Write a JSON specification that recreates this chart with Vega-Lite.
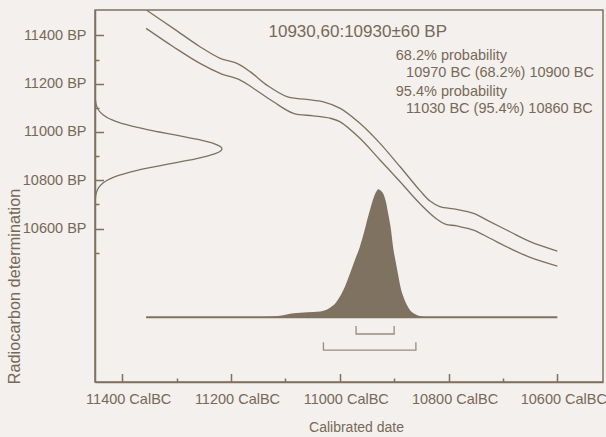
{
  "$schema": "https://vega.github.io/schema/vega-lite/v6.json",
  "width": 508,
  "height": 372,
  "autosize": {"type": "none"},
  "padding": {"left": 95, "top": 10, "right": 3, "bottom": 55},
  "background": "#f3f0ed",
  "config": {"view": {"stroke": "#7f7160", "strokeWidth": 1.5}, "font": "Liberation Sans"},
  "datasets": {
    "calib": [
      {"curve": "upper", "bc": 11355, "bp": 11504},
      {"curve": "upper", "bc": 11306, "bp": 11429},
      {"curve": "upper", "bc": 11257, "bp": 11353},
      {"curve": "upper", "bc": 11220, "bp": 11305},
      {"curve": "upper", "bc": 11189, "bp": 11284},
      {"curve": "upper", "bc": 11165, "bp": 11250},
      {"curve": "upper", "bc": 11134, "bp": 11194},
      {"curve": "upper", "bc": 11097, "bp": 11146},
      {"curve": "upper", "bc": 11061, "bp": 11135},
      {"curve": "upper", "bc": 11030, "bp": 11125},
      {"curve": "upper", "bc": 10999, "bp": 11098},
      {"curve": "upper", "bc": 10963, "bp": 11036},
      {"curve": "upper", "bc": 10926, "bp": 10953},
      {"curve": "upper", "bc": 10889, "bp": 10856},
      {"curve": "upper", "bc": 10852, "bp": 10756},
      {"curve": "upper", "bc": 10834, "bp": 10714},
      {"curve": "upper", "bc": 10816, "bp": 10691},
      {"curve": "upper", "bc": 10785, "bp": 10680},
      {"curve": "upper", "bc": 10754, "bp": 10663},
      {"curve": "upper", "bc": 10724, "bp": 10629},
      {"curve": "upper", "bc": 10687, "bp": 10587},
      {"curve": "upper", "bc": 10650, "bp": 10546},
      {"curve": "upper", "bc": 10600, "bp": 10507},
      {"curve": "lower", "bc": 11356, "bp": 11429},
      {"curve": "lower", "bc": 11306, "bp": 11353},
      {"curve": "lower", "bc": 11257, "bp": 11284},
      {"curve": "lower", "bc": 11220, "bp": 11243},
      {"curve": "lower", "bc": 11183, "bp": 11215},
      {"curve": "lower", "bc": 11159, "bp": 11181},
      {"curve": "lower", "bc": 11122, "bp": 11125},
      {"curve": "lower", "bc": 11085, "bp": 11077},
      {"curve": "lower", "bc": 11049, "bp": 11067},
      {"curve": "lower", "bc": 11018, "bp": 11057},
      {"curve": "lower", "bc": 11000, "bp": 11043},
      {"curve": "lower", "bc": 10963, "bp": 10974},
      {"curve": "lower", "bc": 10926, "bp": 10884},
      {"curve": "lower", "bc": 10889, "bp": 10794},
      {"curve": "lower", "bc": 10852, "bp": 10702},
      {"curve": "lower", "bc": 10822, "bp": 10640},
      {"curve": "lower", "bc": 10806, "bp": 10619},
      {"curve": "lower", "bc": 10785, "bp": 10611},
      {"curve": "lower", "bc": 10754, "bp": 10594},
      {"curve": "lower", "bc": 10724, "bp": 10560},
      {"curve": "lower", "bc": 10687, "bp": 10518},
      {"curve": "lower", "bc": 10650, "bp": 10481},
      {"curve": "lower", "bc": 10600, "bp": 10445}
    ],
    "meas": [
      {"bp": 10710, "bc": 11449.7},
      {"bp": 10730, "bc": 11449.1},
      {"bp": 10750, "bc": 11447.4},
      {"bp": 10770, "bc": 11443.3},
      {"bp": 10790, "bc": 11434.7},
      {"bp": 10800, "bc": 11427.7},
      {"bp": 10810, "bc": 11418.4},
      {"bp": 10820, "bc": 11406.5},
      {"bp": 10830, "bc": 11391.8},
      {"bp": 10840, "bc": 11374.2},
      {"bp": 10850, "bc": 11354.0},
      {"bp": 10860, "bc": 11331.8},
      {"bp": 10870, "bc": 11308.4},
      {"bp": 10880, "bc": 11285.0},
      {"bp": 10890, "bc": 11263.0},
      {"bp": 10900, "bc": 11243.9},
      {"bp": 10910, "bc": 11229.1},
      {"bp": 10920, "bc": 11219.7},
      {"bp": 10930, "bc": 11216.5},
      {"bp": 10940, "bc": 11219.7},
      {"bp": 10950, "bc": 11229.1},
      {"bp": 10960, "bc": 11243.9},
      {"bp": 10970, "bc": 11263.0},
      {"bp": 10980, "bc": 11285.0},
      {"bp": 10990, "bc": 11308.4},
      {"bp": 11000, "bc": 11331.8},
      {"bp": 11010, "bc": 11354.0},
      {"bp": 11020, "bc": 11374.2},
      {"bp": 11030, "bc": 11391.8},
      {"bp": 11040, "bc": 11406.5},
      {"bp": 11050, "bc": 11418.4},
      {"bp": 11060, "bc": 11427.7},
      {"bp": 11070, "bc": 11434.7},
      {"bp": 11090, "bc": 11443.3},
      {"bp": 11110, "bc": 11447.4},
      {"bp": 11130, "bc": 11449.1},
      {"bp": 11150, "bc": 11449.7}
    ],
    "dist": [
      {"bc": 11356, "p": 0},
      {"bc": 11200, "p": 0},
      {"bc": 11140, "p": 0.002},
      {"bc": 11110, "p": 0.012},
      {"bc": 11085, "p": 0.032},
      {"bc": 11060, "p": 0.04},
      {"bc": 11036, "p": 0.046},
      {"bc": 11018, "p": 0.075},
      {"bc": 11008, "p": 0.11},
      {"bc": 11000, "p": 0.16},
      {"bc": 10990, "p": 0.245},
      {"bc": 10981, "p": 0.344},
      {"bc": 10972, "p": 0.45},
      {"bc": 10963, "p": 0.552},
      {"bc": 10955, "p": 0.67},
      {"bc": 10948, "p": 0.786},
      {"bc": 10943, "p": 0.86},
      {"bc": 10938, "p": 0.93},
      {"bc": 10933, "p": 0.98},
      {"bc": 10929, "p": 1.0},
      {"bc": 10925, "p": 0.99},
      {"bc": 10920, "p": 0.965},
      {"bc": 10915, "p": 0.9},
      {"bc": 10911, "p": 0.81},
      {"bc": 10906, "p": 0.69},
      {"bc": 10902, "p": 0.552},
      {"bc": 10897, "p": 0.43},
      {"bc": 10892, "p": 0.317},
      {"bc": 10888, "p": 0.23},
      {"bc": 10883, "p": 0.161},
      {"bc": 10877, "p": 0.1},
      {"bc": 10871, "p": 0.057},
      {"bc": 10862, "p": 0.025},
      {"bc": 10853, "p": 0.01},
      {"bc": 10843, "p": 0.002},
      {"bc": 10830, "p": 0},
      {"bc": 10600, "p": 0}
    ],
    "base": [{"bc": 11356, "bc2": 10600, "p": 0}],
    "ranges": [
      {"range": "68.2%", "k": 1, "bc": 10970, "p": -0.068},
      {"range": "68.2%", "k": 2, "bc": 10970, "p": -0.1305},
      {"range": "68.2%", "k": 3, "bc": 10900, "p": -0.1305},
      {"range": "68.2%", "k": 4, "bc": 10900, "p": -0.068},
      {"range": "95.4%", "k": 1, "bc": 11030, "p": -0.1945},
      {"range": "95.4%", "k": 2, "bc": 11030, "p": -0.257},
      {"range": "95.4%", "k": 3, "bc": 10860, "p": -0.257},
      {"range": "95.4%", "k": 4, "bc": 10860, "p": -0.1945}
    ],
    "heading": [{"text": "10930,60:10930±60 BP", "bc": 11131, "bp": 11395}],
    "notes": [
      {"text": "68.2% probability", "bc": 10897, "bp": 11298},
      {"text": "10970 BC (68.2%) 10900 BC", "bc": 10878, "bp": 11226},
      {"text": "95.4% probability", "bc": 10897, "bp": 11151},
      {"text": "11030 BC (95.4%) 10860 BC", "bc": 10878, "bp": 11077}
    ]
  },
  "encoding": {
    "x": {
      "field": "bc",
      "type": "quantitative",
      "scale": {"domain": [10516, 11450], "reverse": true, "nice": false, "zero": false},
      "axis": {
        "values": [11400, 11300, 11200, 11100, 11000, 10900, 10800, 10700, 10600],
        "labelExpr": "datum.value % 200 === 0 ? datum.value + ' CalBC' : ''",
        "tickSize": {"condition": {"test": "datum.value % 200 === 0", "value": -8.5}, "value": -4},
        "labelPadding": 18.5,
        "labelOffset": 6,
        "labelFont": "Liberation Sans",
        "labelFontSize": 14.5,
        "labelColor": "#776957",
        "labelBaseline": "top",
        "labelFlush": false,
        "labelOverlap": false,
        "domainColor": "#7f7160",
        "domainWidth": 1.5,
        "tickColor": "#7f7160",
        "tickWidth": 1.5,
        "grid": false,
        "title": "Calibrated date",
        "titleFont": "Liberation Sans",
        "titleFontSize": 14,
        "titleFontWeight": "normal",
        "titleColor": "#776957",
        "titleX": 261,
        "titleY": 49.5,
        "titleBaseline": "alphabetic",
        "titleAlign": "center"
      }
    }
  },
  "layer": [
    {
      "encoding": {
        "y": {
          "field": "bp",
          "type": "quantitative",
          "scale": {"domain": [9965, 11505], "nice": false, "zero": false},
          "axis": {
            "values": [10500, 10600, 10700, 10800, 10900, 11000, 11100, 11200, 11300, 11400],
            "labelExpr": "datum.value % 200 === 0 ? datum.value + ' BP' : ''",
            "tickSize": {"condition": {"test": "datum.value % 200 === 0", "value": -8.5}, "value": -4},
            "labelPadding": 17.5,
            "labelFont": "Liberation Sans",
            "labelFontSize": 14.5,
            "labelColor": "#776957",
            "labelBaseline": "middle",
            "labelAlign": "right",
            "labelFlush": false,
            "labelOverlap": false,
            "domainColor": "#7f7160",
            "domainWidth": 1.5,
            "tickColor": "#7f7160",
            "tickWidth": 1.5,
            "grid": false,
            "title": "Radiocarbon determination",
            "titleFont": "Liberation Sans",
            "titleFontSize": 16.3,
            "titleFontWeight": "normal",
            "titleColor": "#776957",
            "titleAngle": 270,
            "titleX": -76,
            "titleY": 276,
            "titleBaseline": "alphabetic",
            "titleAlign": "center"
          }
        }
      },
      "layer": [
        {
          "data": {"name": "calib"},
          "mark": {"type": "line", "color": "#7f7160", "strokeWidth": 1.3, "interpolate": "catmull-rom", "clip": true},
          "encoding": {"detail": {"field": "curve"}}
        },
        {
          "data": {"name": "meas"},
          "mark": {"type": "line", "color": "#7f7160", "strokeWidth": 1.3, "interpolate": "catmull-rom", "clip": true},
          "encoding": {"order": {"field": "bp", "type": "quantitative"}}
        },
        {
          "data": {"name": "heading"},
          "mark": {"type": "text", "align": "left", "baseline": "alphabetic", "font": "Liberation Sans", "fontSize": 17, "color": "#776957"},
          "encoding": {"text": {"field": "text"}}
        },
        {
          "data": {"name": "notes"},
          "mark": {"type": "text", "align": "left", "baseline": "alphabetic", "font": "Liberation Sans", "fontSize": 14.5, "color": "#776957"},
          "encoding": {"text": {"field": "text"}}
        }
      ]
    },
    {
      "encoding": {
        "y": {
          "field": "p",
          "type": "quantitative",
          "scale": {"domain": [-0.5055, 2.4008], "nice": false, "zero": false},
          "axis": null
        }
      },
      "layer": [
        {
          "data": {"name": "dist"},
          "mark": {"type": "area", "color": "#807260", "interpolate": "monotone", "opacity": 1},
          "encoding": {"y2": {"datum": 0}}
        },
        {
          "data": {"name": "base"},
          "mark": {"type": "rule", "color": "#7f7160", "strokeWidth": 2},
          "encoding": {"x2": {"field": "bc2"}}
        },
        {
          "data": {"name": "ranges"},
          "mark": {"type": "line", "color": "#9a8c7c", "strokeWidth": 1.3},
          "encoding": {"detail": {"field": "range"}, "order": {"field": "k", "type": "quantitative"}}
        }
      ]
    }
  ],
  "resolve": {"scale": {"y": "independent"}}
}
